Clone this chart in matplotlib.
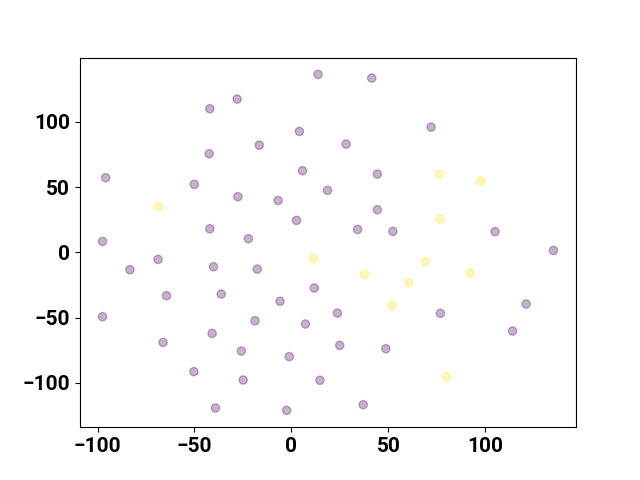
import numpy as np
import matplotlib
matplotlib.use("Agg")
import matplotlib.pyplot as plt

plt.rcParams['font.family'] = ['Roboto', 'DejaVu Sans']
plt.rcParams['font.weight'] = 'bold'
plt.rcParams['font.size'] = 15

# embedded coordinates, class 0 (purple)
x0 = [13.7, -28.0, -42.1, 4.1, -16.6, -42.4, -95.8, -50.1, 5.7, 18.6,
      -27.6, -6.9, 2.6, -42.1, -22.2, -97.4, 41.4, 72.0, 28.2, 44.3,
      44.3, 34.1, 52.3, 105.0, -68.8, -83.3, -40.2, -17.6, 11.8, -64.4,
      -36.2, -5.9, -97.4, -18.8, 7.2, -40.9, -66.2, -25.8, -1.1, -50.3,
      -24.9, 14.7, -39.2, -2.5, 135.1, 23.7, 76.8, 121.0, 114.0, 24.9,
      48.7, 37.0]
y0 = [136.4, 117.5, 110.1, 92.7, 82.2, 75.6, 57.2, 52.1, 62.6, 47.5,
      42.7, 39.8, 24.5, 18.1, 10.5, 8.4, 133.6, 96.0, 83.0, 60.0,
      32.7, 17.6, 16.1, 15.9, -5.4, -13.3, -11.0, -12.8, -27.3, -33.2,
      -31.9, -37.5, -49.3, -52.4, -54.9, -62.1, -69.0, -75.6, -79.9, -91.4,
      -97.8, -98.0, -119.3, -121.1, 1.5, -46.5, -46.7, -39.6, -60.3, -71.3,
      -73.8, -116.7]

# class 1 (yellow)
x1 = [-68.4, 76.3, 97.7, 76.8, 11.3, 69.1, 37.8, 92.1, 60.6, 51.9, 80.0]
y1 = [35.0, 60.0, 54.6, 25.5, -4.8, -7.2, -16.6, -15.8, -23.5, -40.6, -95.3]

X = np.array(x0 + x1)
Y = np.array(y0 + y1)
labels = np.array([0] * len(x0) + [1] * len(x1))

fig, ax = plt.subplots(figsize=(6.4, 4.8), dpi=100)
ax.scatter(X, Y, c=labels, cmap='viridis', alpha=0.3)

plt.savefig("out.png")
